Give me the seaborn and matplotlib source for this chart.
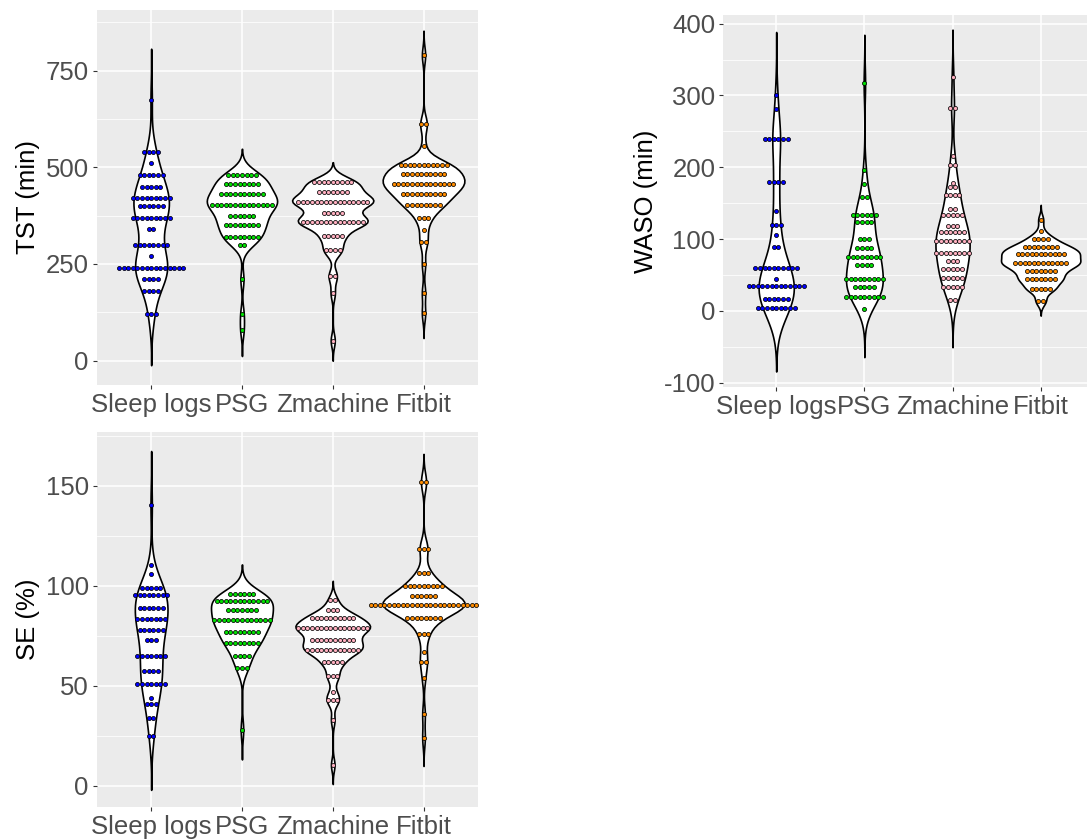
import numpy as np
import pandas as pd
import matplotlib
matplotlib.use("Agg")
import matplotlib.pyplot as plt
from matplotlib.ticker import MultipleLocator
import seaborn as sns

CATEGORIES = ["Sleep logs", "PSG", "Zmachine", "Fitbit"]
DOT_COLORS = ["#0000FF", "#00E000", "#FFB0C0", "#FF8C00"]

# ---- TST (min): dot rows (binned value, number of dots) ----
TST_SLEEP_LOGS_VALUES = [675, 540, 510, 480, 450, 420, 400, 370, 340, 300, 270, 240, 210, 180, 120]
TST_SLEEP_LOGS_COUNTS = [1, 4, 1, 6, 5, 9, 6, 9, 2, 8, 1, 15, 4, 4, 3]
TST_PSG_VALUES = [480, 457, 430, 403, 373, 352, 320, 298, 210, 120, 80]
TST_PSG_COUNTS = [7, 8, 10, 14, 6, 8, 8, 2, 1, 1, 1]
TST_ZMACHINE_VALUES = [461, 437, 411, 381, 358, 322, 286, 219, 174, 52]
TST_ZMACHINE_COUNTS = [9, 7, 16, 5, 14, 5, 4, 2, 1, 1]
TST_FITBIT_VALUES = [790, 612, 555, 506, 482, 458, 431, 402, 368, 338, 308, 249, 176, 122]
TST_FITBIT_COUNTS = [1, 2, 1, 11, 10, 14, 10, 8, 3, 1, 2, 1, 1, 1]

# ---- WASO (min) ----
WASO_SLEEP_LOGS_VALUES = [300, 281, 240, 180, 139, 120, 105, 89, 60, 44, 34, 17, 4]
WASO_SLEEP_LOGS_COUNTS = [1, 1, 6, 4, 1, 3, 1, 2, 10, 1, 13, 6, 9]
WASO_PSG_VALUES = [317, 196, 176, 159, 134, 124, 100, 88, 75, 64, 44, 33, 20, 3]
WASO_PSG_COUNTS = [1, 1, 1, 2, 6, 4, 3, 4, 8, 4, 9, 5, 9, 1]
WASO_ZMACHINE_VALUES = [326, 282, 215, 203, 178, 172, 161, 142, 133, 118, 110, 97, 81, 69, 58, 46, 33, 15]
WASO_ZMACHINE_COUNTS = [1, 2, 1, 2, 1, 2, 4, 2, 5, 3, 6, 8, 8, 3, 5, 5, 5, 2]
WASO_FITBIT_VALUES = [127, 111, 100, 89, 79, 67, 56, 44, 31, 14]
WASO_FITBIT_COUNTS = [1, 1, 4, 8, 11, 12, 7, 7, 5, 2]

# ---- SE (%) ----
SE_SLEEP_LOGS_VALUES = [140.5, 110.5, 106, 99, 95.5, 89, 83.5, 78, 73, 65, 57.5, 51, 44, 41, 34, 25]
SE_SLEEP_LOGS_COUNTS = [1, 1, 1, 5, 8, 6, 7, 6, 3, 7, 4, 7, 1, 3, 2, 2]
SE_PSG_VALUES = [96, 92.7, 88, 83, 77, 71.7, 65, 59, 28]
SE_PSG_COUNTS = [6, 12, 7, 13, 8, 8, 4, 3, 1]
SE_ZMACHINE_VALUES = [93, 88, 84, 79, 73, 68, 62, 55, 47, 43, 33, 10.5]
SE_ZMACHINE_COUNTS = [2, 3, 10, 16, 10, 12, 5, 3, 1, 3, 1, 1]
SE_FITBIT_VALUES = [152, 118.7, 106.7, 100, 95, 90.7, 84, 76, 67, 62, 54, 36, 24]
SE_FITBIT_COUNTS = [2, 3, 3, 9, 6, 24, 8, 3, 1, 2, 1, 1, 1]

TST_ROWS = [(TST_SLEEP_LOGS_VALUES, TST_SLEEP_LOGS_COUNTS), (TST_PSG_VALUES, TST_PSG_COUNTS),
            (TST_ZMACHINE_VALUES, TST_ZMACHINE_COUNTS), (TST_FITBIT_VALUES, TST_FITBIT_COUNTS)]
WASO_ROWS = [(WASO_SLEEP_LOGS_VALUES, WASO_SLEEP_LOGS_COUNTS), (WASO_PSG_VALUES, WASO_PSG_COUNTS),
             (WASO_ZMACHINE_VALUES, WASO_ZMACHINE_COUNTS), (WASO_FITBIT_VALUES, WASO_FITBIT_COUNTS)]
SE_ROWS = [(SE_SLEEP_LOGS_VALUES, SE_SLEEP_LOGS_COUNTS), (SE_PSG_VALUES, SE_PSG_COUNTS),
           (SE_ZMACHINE_VALUES, SE_ZMACHINE_COUNTS), (SE_FITBIT_VALUES, SE_FITBIT_COUNTS)]

FONT = ["Liberation Sans", "DejaVu Sans"]
plt.rcParams["font.family"] = FONT
plt.rcParams["axes.unicode_minus"] = False

FIG_W, FIG_H = 1087, 840
fig = plt.figure(figsize=(FIG_W / 100, FIG_H / 100), dpi=100)

DOT_PX = 4.6
FS = 18.5


def nrd0(kde):
    x = np.asarray(kde.dataset).ravel()
    n = x.size
    sd = x.std(ddof=1)
    q75, q25 = np.percentile(x, [75, 25])
    lo = min(sd, (q75 - q25) / 1.34)
    return 0.9 * lo * n ** -0.2 / sd


def panel(rect_px, rows, ylabel, ylim, major, minor):
    left, top, right, bottom = rect_px
    ax = fig.add_axes([left / FIG_W, 1 - bottom / FIG_H,
                       (right - left) / FIG_W, (bottom - top) / FIG_H])
    recs = []
    for cat, (vals, cnts) in zip(CATEGORIES, rows):
        for v, c in zip(vals, cnts):
            recs += [(cat, v)] * c
    df = pd.DataFrame(recs, columns=["device", "value"])
    ax.set_facecolor("#EBEBEB")
    ax.set_axisbelow(True)
    sns.violinplot(data=df, x="device", y="value", order=CATEGORIES, color="white",
                   saturation=1, linecolor="black", linewidth=1.2, inner=None,
                   cut=3, width=0.9, density_norm="area", bw_method=nrd0, ax=ax)
    span = 4.2
    d = DOT_PX / ((right - left) / span)
    for i, (vals, cnts) in enumerate(rows):
        xs, ys = [], []
        for v, c in zip(vals, cnts):
            offs = (np.arange(c) - (c - 1) / 2) * d
            xs += list(i + offs)
            ys += [v] * c
        sns.scatterplot(x=xs, y=ys, color=DOT_COLORS[i], edgecolor="black",
                        linewidth=0.55, s=8.5, ax=ax, zorder=3, legend=False)
    ax.set_xlim(-0.6, 3.6)
    ax.set_ylim(*ylim)
    ax.yaxis.set_major_locator(MultipleLocator(major))
    ax.yaxis.set_minor_locator(MultipleLocator(minor))
    ax.grid(which="major", color="white", linewidth=1.1)
    ax.grid(which="minor", axis="y", color="white", linewidth=0.55)
    for s in ax.spines.values():
        s.set_visible(False)
    ax.tick_params(which="major", length=3.2, width=0.8, color="#333333",
                   labelsize=FS, labelcolor="#4D4D4D", pad=2.5)
    ax.tick_params(which="minor", length=0)
    ax.set_xlabel("")
    ax.set_ylabel(ylabel, fontsize=FS, color="black", labelpad=4)
    return ax


panel((96.7, 10, 478, 385), TST_ROWS, "TST (min)", (-63, 907), 250, 125)
panel((723.3, 15, 1093.6, 387), WASO_ROWS, "WASO (min)", (-106, 412), 100, 50)
panel((96.7, 432, 478, 807.3), SE_ROWS, "SE (%)", (-10.7, 177), 50, 25)

fig.savefig("out.png", dpi=100, facecolor="white")
